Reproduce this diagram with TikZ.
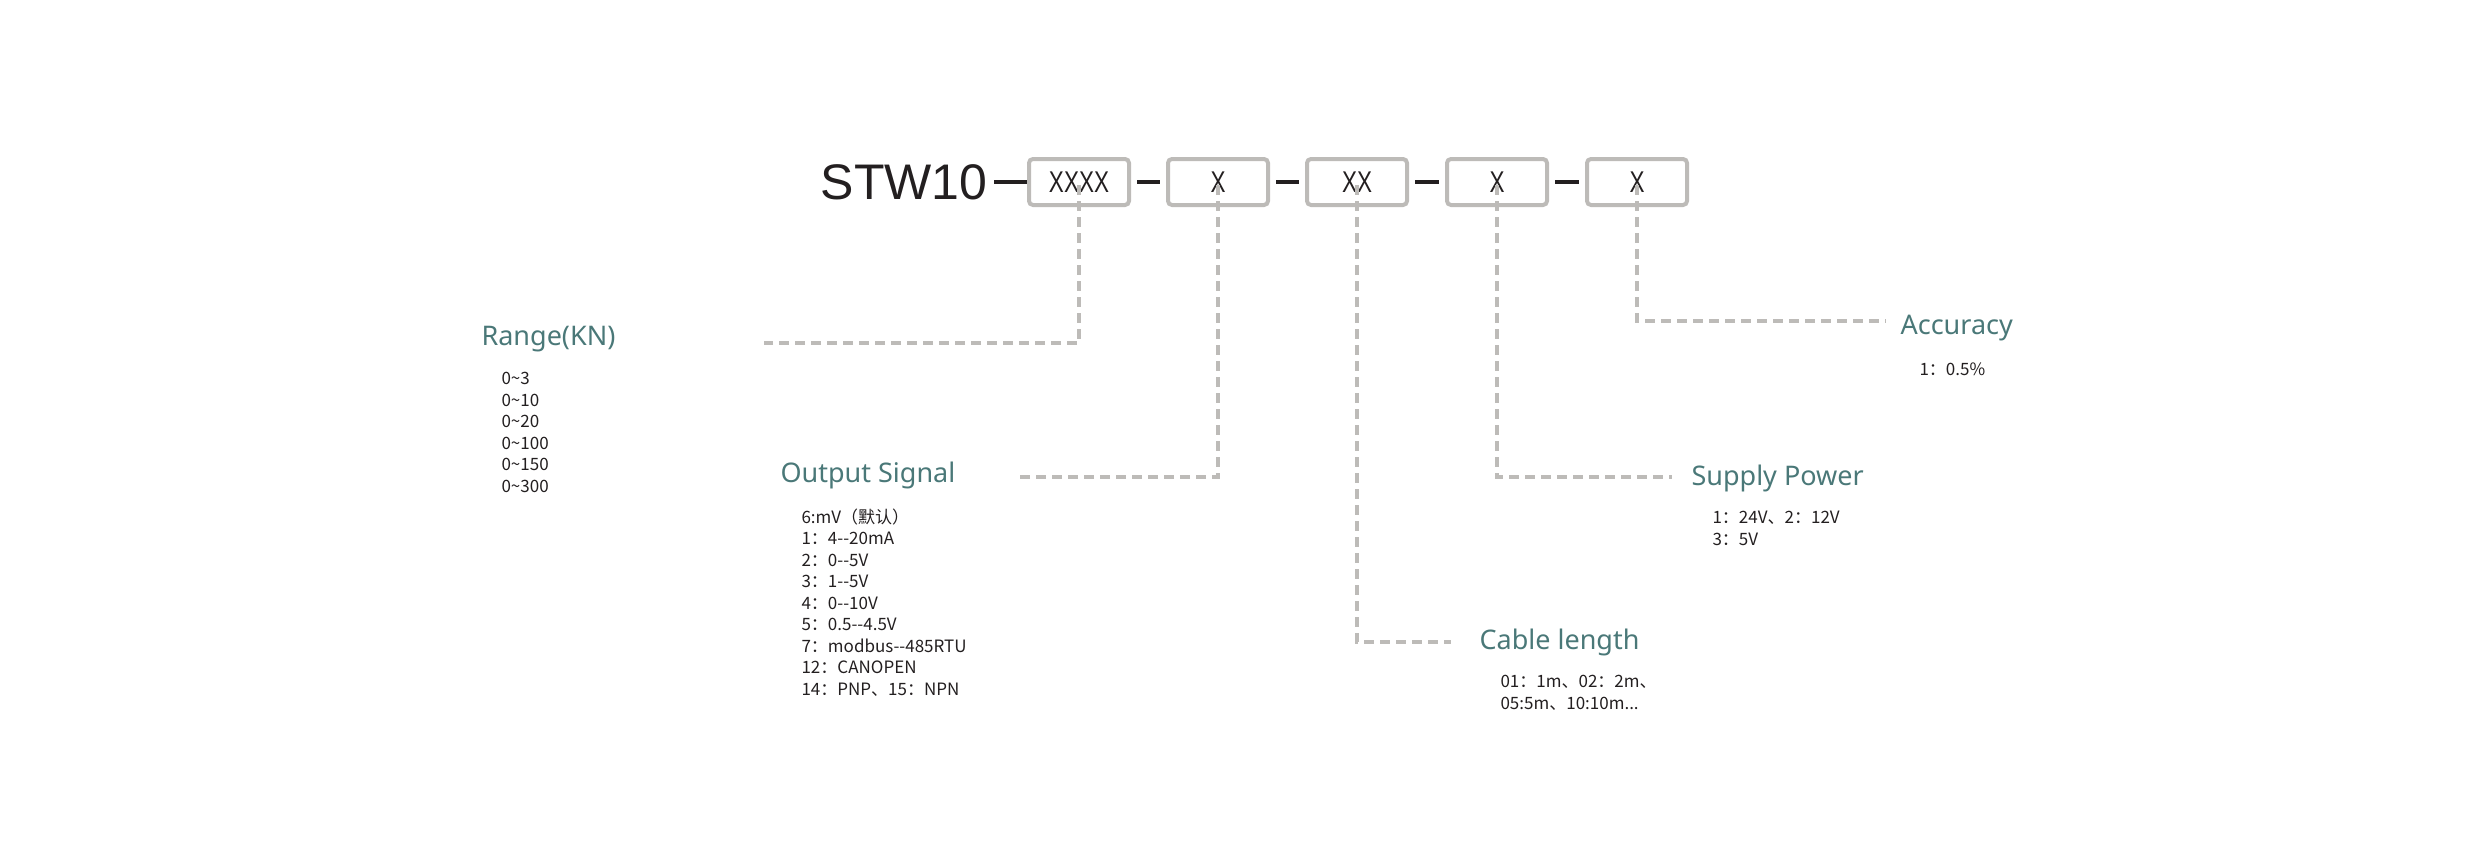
\documentclass[tikz,border=0pt]{standalone}
\usepackage{fontspec}
\setmainfont{Noto Sans}
\newfontfamily\cjk{Noto Sans CJK SC}
\newfontfamily\cond{Liberation Sans}
\usetikzlibrary{positioning}
\definecolor{teal}{HTML}{4A7878}
\definecolor{frame}{HTML}{BDBBB8}
\definecolor{ink}{HTML}{231F20}
\tikzset{
  codebox/.style={draw=frame, line width=4pt, rounded corners=4pt, minimum width=100pt, minimum height=46pt,
    font=\cond\fontsize{30}{30}\selectfont, text=ink},
  lead/.style={draw=frame, line width=4pt, dash pattern=on 10pt off 6pt},
  title/.style={text=teal, font=\fontsize{27}{27}\selectfont, anchor=west},
  items/.style={text=ink, font=\cjk\fontsize{17}{21.5}\selectfont, align=left, anchor=north west},
  hyph/.style={draw=ink, line width=4pt}
}
\begin{document}
\begin{tikzpicture}[x=1pt, y=-1pt]
  \useasboundingbox (0,0) rectangle (2481,859);
  \node (model) [anchor=east, text=ink, font=\cond\fontsize{50}{50}\selectfont] at (991,182) {STW10};
  \node (b1) [codebox] at (1079,182) {\scalebox{0.75}[1]{XXXX}};
  \node (b2) [codebox] at (1218,182) {\scalebox{0.75}[1]{X}};
  \node (b3) [codebox] at (1357,182) {\scalebox{0.75}[1]{XX}};
  \node (b4) [codebox] at (1497,182) {\scalebox{0.75}[1]{X}};
  \node (b5) [codebox] at (1637,182) {\scalebox{0.75}[1]{X}};
  % hyphens between the parts
  \draw [hyph] (model.east) ++(3,0) -- (b1.west);
  \foreach \a/\b in {b1/b2, b2/b3, b3/b4, b4/b5}
    \draw [hyph] ([xshift=6pt]\a.east) -- ([xshift=-6pt]\b.west);

  % range
  \node (range) [title] at (478,339) {Range(KN)};
  \node (rangelist) [items] at (498,369) {0\textasciitilde3\\0\textasciitilde10\\0\textasciitilde20\\0\textasciitilde100\\0\textasciitilde150\\0\textasciitilde300};
  \coordinate (rangeend) at (764,343);
  \draw [lead] ([yshift=22pt]b1.south) |- (rangeend);

  % output signal
  \node (output) [title] at (777,475) {Output Signal};
  \node (outputlist) [items] at (798,505) {6:mV（默认）\\1：4--20mA\\2：0--5V\\3：1--5V\\4：0--10V\\5：0.5--4.5V\\7：modbus--485RTU\\12：CANOPEN\\14：PNP、15：NPN};
  \coordinate (outputend) at (1014,477);
  \draw [lead] ([yshift=22pt]b2.south) |- (outputend);

  % cable length
  \node (cable) [title] at (1476,642) {Cable length};
  \node (cablelist) [items] at (1497,672) {01：1m、02：2m、\\05:5m、10:10m...};
  \coordinate (cableend) at (1451,642);
  \draw [lead] ([yshift=22pt]b3.south) |- (cableend);

  % supply power
  \node (supply) [title] at (1688,478) {Supply Power};
  \node (supplylist) [items] at (1709,508) {1：24V、2：12V\\3：5V};
  \coordinate (supplyend) at (1672,477);
  \draw [lead] ([yshift=22pt]b4.south) |- (supplyend);

  % accuracy
  \node (accuracy) [title] at (1897,328) {Accuracy};
  \node (accuracylist) [items] at (1916,359) {1：0.5\%};
  \coordinate (accuracyend) at (1886,321);
  \draw [lead] ([yshift=22pt]b5.south) |- (accuracyend);
\end{tikzpicture}
\end{document}
